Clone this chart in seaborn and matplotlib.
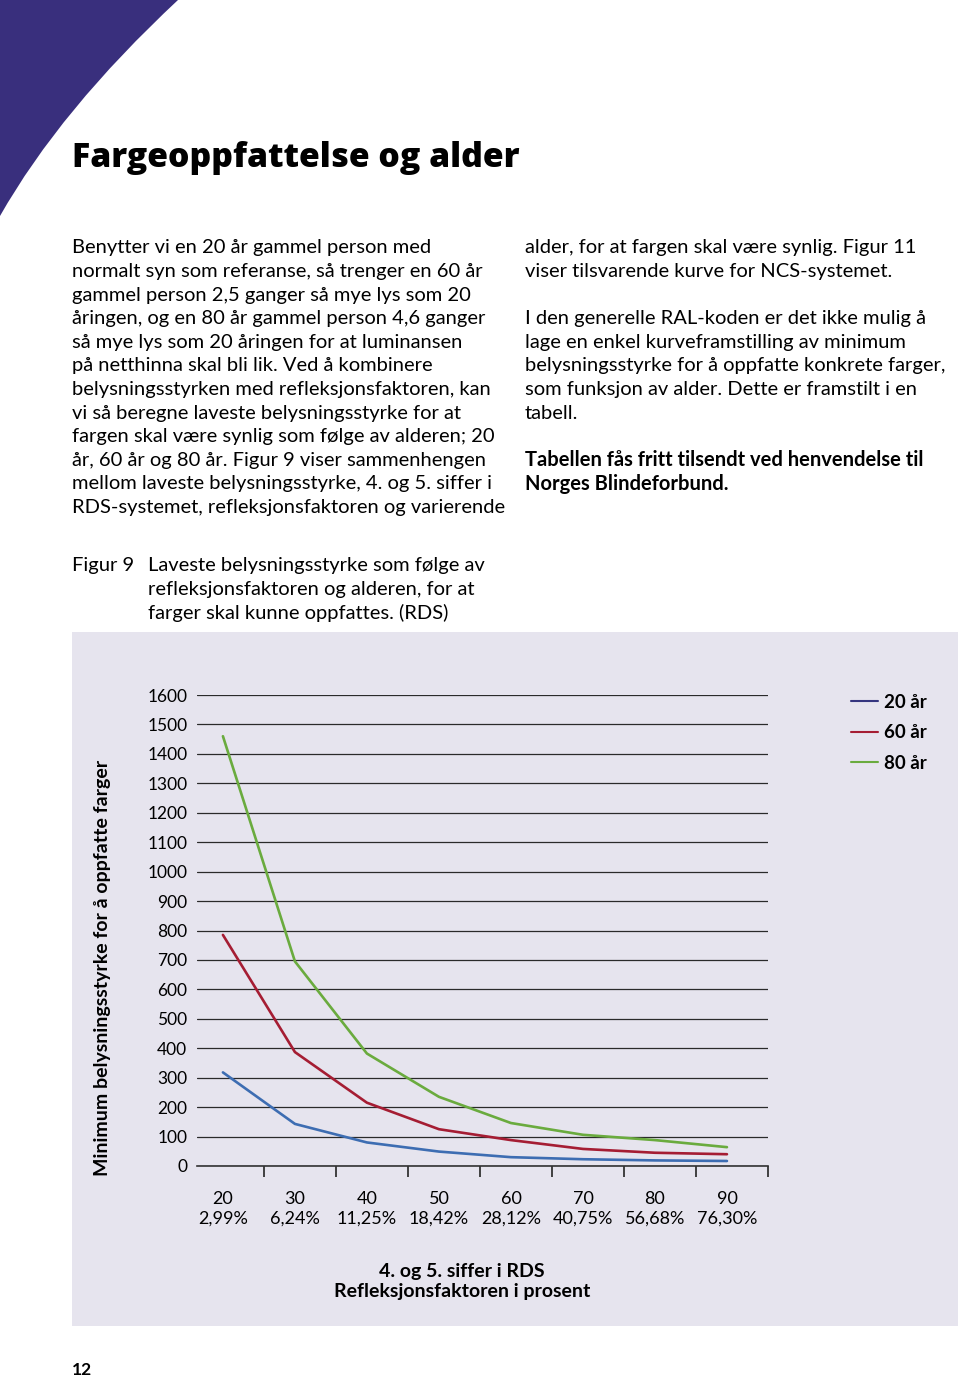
import matplotlib
matplotlib.use("Agg")
import matplotlib.pyplot as plt
from matplotlib.path import Path
from matplotlib.patches import PathPatch, Rectangle
from matplotlib.lines import Line2D
import pandas as pd
import seaborn as sns

# ---- data ----
rds = [20, 30, 40, 50, 60, 70, 80, 90]
refleksjon = ["2,99%", "6,24%", "11,25%", "18,42%", "28,12%", "40,75%", "56,68%", "76,30%"]
ar_20 = [318, 143, 80, 49, 30, 23, 19, 17]
ar_60 = [785, 387, 215, 125, 88, 58, 45, 40]
ar_80 = [1460, 695, 382, 235, 146, 106, 88, 64]
aldre = ["20 år", "60 år", "80 år"]
farger = {"20 år": "#3d6db2", "60 år": "#a51d33", "80 år": "#6aab3e"}
legend_farger = {"20 år": "#35357f", "60 år": "#a51d33", "80 år": "#6aab3e"}
y_ticks = list(range(0, 1700, 100))

df = pd.DataFrame({
    "rds": rds * 3,
    "lux": ar_20 + ar_60 + ar_80,
    "alder": [a for a in aldre for _ in rds],
})

sns.set_style("white")
plt.rcParams["font.family"] = ["Lato", "DejaVu Sans"]
plt.rcParams["text.color"] = "black"
plt.rcParams["xtick.color"] = "black"
plt.rcParams["ytick.color"] = "black"

W, H = 960, 1378
fig = plt.figure(figsize=(W / 100, H / 100), dpi=100)


def fx(px):
    return px / W


def fy(py):
    return 1 - py / H


# purple corner
verts = [(fx(0), fy(0)), (fx(178), fy(0)), (fx(60), fy(110)), (fx(0), fy(216)), (fx(0), fy(0))]
codes = [Path.MOVETO, Path.LINETO, Path.CURVE3, Path.CURVE3, Path.CLOSEPOLY]
fig.patches.append(PathPatch(Path(verts, codes), transform=fig.transFigure,
                             facecolor="#392f7d", edgecolor="none", zorder=-2))

fig.text(fx(72), fy(158), "Fargeoppfattelse og alder", fontsize=24.3, fontweight="heavy",
         family=["Open Sans", "DejaVu Sans"], va="center", ha="left")

venstre = [
    "Benytter vi en 20 år gammel person med",
    "normalt syn som referanse, så trenger en 60 år",
    "gammel person 2,5 ganger så mye lys som 20",
    "åringen, og en 80 år gammel person 4,6 ganger",
    "så mye lys som 20 åringen for at luminansen",
    "på netthinna skal bli lik. Ved å kombinere",
    "belysningsstyrken med refleksjonsfaktoren, kan",
    "vi så beregne laveste belysningsstyrke for at",
    "fargen skal være synlig som følge av alderen; 20",
    "år, 60 år og 80 år. Figur 9 viser sammenhengen",
    "mellom laveste belysningsstyrke, 4. og 5. siffer i",
    "RDS-systemet, refleksjonsfaktoren og varierende",
]
for i, line in enumerate(venstre):
    fig.text(fx(72), fy(248 + i * 23.6), line, fontsize=14.5, va="center", ha="left")

hoyre = [
    (248, "alder, for at fargen skal være synlig. Figur 11", "normal"),
    (271.6, "viser tilsvarende kurve for NCS-systemet.", "normal"),
    (318.8, "I den generelle RAL-koden er det ikke mulig å", "normal"),
    (342.4, "lage en enkel kurveframstilling av minimum", "normal"),
    (366, "belysningsstyrke for å oppfatte konkrete farger,", "normal"),
    (389.6, "som funksjon av alder. Dette er framstilt i en", "normal"),
    (413.2, "tabell.", "normal"),
    (460.4, "Tabellen fås fritt tilsendt ved henvendelse til", "bold"),
    (484, "Norges Blindeforbund.", "bold"),
]
for y, line, w in hoyre:
    fig.text(fx(525), fy(y), line, fontsize=14.5, fontweight=w, va="center", ha="left")

fig.text(fx(72), fy(566), "Figur 9", fontsize=14.5, va="center", ha="left")
for i, line in enumerate(["Laveste belysningsstyrke som følge av",
                          "refleksjonsfaktoren og alderen, for at",
                          "farger skal kunne oppfattes. (RDS)"]):
    fig.text(fx(148), fy(566 + i * 23.6), line, fontsize=14.5, va="center", ha="left")

# chart panel
fig.patches.append(Rectangle((fx(72), fy(1326)), fx(958) - fx(72), fy(632) - fy(1326),
                             transform=fig.transFigure, facecolor="#e6e4ee",
                             edgecolor="none", zorder=-1))

ax = fig.add_axes([fx(197), fy(1166), fx(768) - fx(197), fy(695) - fy(1166)])
ax.set_zorder(2)
ax.set_facecolor("none")
sns.lineplot(data=df, x="rds", y="lux", hue="alder", palette=farger, linewidth=1.9,
             legend=False, ax=ax, zorder=3)

ax.set_xlim(16.4, 95.4)
ax.set_ylim(0, 1600)
ax.set_yticks(y_ticks)
ax.set_yticklabels([str(v) for v in y_ticks])
ax.set_xticks(rds)
ax.set_xticklabels([f"{r}\n{p}" for r, p in zip(rds, refleksjon)], linespacing=1.3)
ax.set_xticks([r + 5.7 for r in rds], minor=True)
ax.tick_params(axis="x", which="major", bottom=True, length=0, pad=18, labelsize=13)
ax.tick_params(axis="x", which="minor", bottom=True, length=8, width=1.3,
               color="#333333", direction="out")
ax.tick_params(axis="y", length=0, pad=7, labelsize=12.5)
ax.yaxis.grid(True, color="#2a2a2a", linewidth=0.9)
ax.set_axisbelow(True)
for s in ["left", "right", "top"]:
    ax.spines[s].set_visible(False)
ax.spines["bottom"].set_color("#333333")
ax.spines["bottom"].set_linewidth(1.2)
ax.set_xlabel("")
ax.set_ylabel("")

fig.text(fx(103), fy(968), "Minimum belysningsstyrke for å oppfatte farger", rotation=90,
         fontsize=14, fontweight="bold", va="center", ha="center")
fig.text(fx(462), fy(1271), "4. og 5. siffer i RDS", fontsize=14, fontweight="bold",
         va="center", ha="center")
fig.text(fx(462), fy(1292), "Refleksjonsfaktoren i prosent", fontsize=14, fontweight="bold",
         va="center", ha="center")

handles = [Line2D([], [], color=legend_farger[a], linewidth=1.5) for a in aldre]
leg = fig.legend(handles, aldre, loc="upper left", bbox_to_anchor=(fx(834), fy(677)),
                 frameon=False, handlelength=1.45, handletextpad=0.3, labelspacing=0.72,
                 prop={"weight": "bold", "size": 13.5})

fig.text(fx(72), fy(1370), "12", fontsize=12.5, fontweight="bold", va="center", ha="left")

fig.savefig("out.png", dpi=100)
